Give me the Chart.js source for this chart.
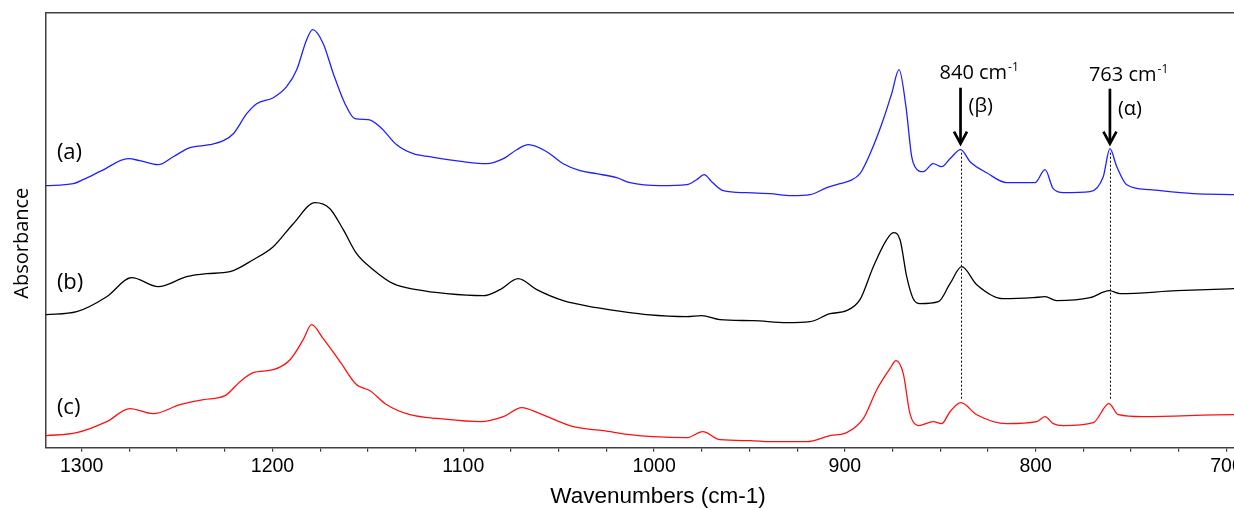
<!DOCTYPE html>
<html><head><meta charset="utf-8">
<script src="https://cdn.jsdelivr.net/npm/chart.js@4"></script>
<style>
html,body{margin:0;padding:0;background:#fff;overflow:hidden}
#wrap{width:1234px;height:510px;overflow:hidden;position:relative}
canvas{display:block}
</style></head>
<body><div id="wrap"><canvas id="c" width="1280" height="510"></canvas></div>
<script>
// Wavenumber (cm-1) and absorbance (offset, arbitrary units) for each spectrum
const waveA=[1318.7,1304.4,1299.3,1289.5,1275.6,1269.4,1259.9,1252,1243.2,1232.8,1225.8,1220.5,1213.5,1208.3,1199.6,1192.6,1187.3,1182.1,1178.9,1173.4,1168.1,1162,1156.8,1149.8,1143.7,1134.9,1126.2,1117.5,1100,1087.7,1079,1072,1065.9,1056.3,1047.6,1038.8,1030.1,1019.6,1012.6,996.9,982.9,977.7,973.8,969.8,963.7,951.5,939.3,927.9,918.3,909.5,902.6,897.3,892.1,886.8,879.9,875.5,871.6,868,865,863.3,858.9,853.7,849.3,844.9,839.3,834.4,825.7,815.2,800.4,795.1,790.8,785.5,771.5,764.6,761.1,757.5,752.3,740.1,717.4,696.1,677];
const absA=[2.62,2.64,2.68,2.77,2.89,2.87,2.83,2.91,3.00,3.03,3.07,3.14,3.34,3.44,3.50,3.61,3.78,4.08,4.18,4.04,3.74,3.44,3.29,3.28,3.21,3.03,2.94,2.91,2.86,2.84,2.89,2.98,3.03,2.96,2.84,2.77,2.74,2.70,2.65,2.62,2.63,2.68,2.73,2.66,2.57,2.55,2.54,2.52,2.53,2.60,2.64,2.67,2.74,2.94,3.28,3.54,3.78,3.41,2.91,2.81,2.76,2.84,2.81,2.89,2.98,2.86,2.75,2.65,2.65,2.78,2.59,2.55,2.56,2.71,2.99,2.81,2.63,2.58,2.54,2.53,2.52];

const waveB=[1318.7,1302.6,1286.9,1273.8,1259.9,1245,1234.5,1222.3,1210.1,1199.6,1189.1,1177.7,1169.9,1162.9,1155.9,1147.2,1136.7,1124.4,1108.7,1089.5,1080.8,1071.2,1061.5,1047.6,1030.1,1012.6,1003.9,982.9,975,965.5,948,930.5,918.3,907.8,899.1,892.1,885.1,878.1,874.6,871.1,867.6,864.2,860.6,851,844.9,838.8,830.9,817,801.3,795.1,789,771.5,761.4,755.8,726.1,696.1,677];
const absB=[1.33,1.36,1.51,1.70,1.61,1.71,1.74,1.76,1.88,2.01,2.24,2.45,2.39,2.18,1.94,1.78,1.64,1.58,1.54,1.52,1.58,1.69,1.58,1.47,1.40,1.35,1.33,1.31,1.32,1.28,1.27,1.25,1.26,1.34,1.37,1.48,1.81,2.08,2.15,2.08,1.71,1.49,1.44,1.46,1.64,1.81,1.63,1.49,1.50,1.51,1.47,1.50,1.57,1.54,1.57,1.59,1.60];

const waveC=[1318.7,1302.6,1286.9,1274.7,1262.5,1248.5,1236.3,1224.9,1217,1210.1,1199.6,1190.8,1183.9,1179.5,1173.4,1164.6,1155.9,1148.9,1140.1,1127.9,1112.2,1091.2,1079,1069.4,1059.8,1042.3,1026.6,1012.6,1000.4,982.9,974.5,965.5,949.7,939.3,920,907.8,899.1,890.4,883.3,876.4,873.2,869.4,865.9,861.5,853.7,849.3,844.9,839.2,830.9,815.2,799.5,795.1,790.8,785.5,769.8,761.6,756.7,743.6,696.1,677];
const absC=[0.12,0.15,0.26,0.39,0.34,0.43,0.48,0.52,0.66,0.75,0.78,0.88,1.08,1.23,1.09,0.86,0.63,0.57,0.43,0.33,0.29,0.26,0.31,0.40,0.34,0.21,0.17,0.13,0.11,0.10,0.16,0.08,0.07,0.06,0.06,0.12,0.15,0.29,0.58,0.79,0.87,0.74,0.34,0.22,0.26,0.24,0.36,0.45,0.33,0.24,0.26,0.31,0.24,0.22,0.25,0.44,0.33,0.31,0.33,0.33];

// Axis ticks
const tickValues=[1300,1275,1250,1225,1200,1175,1150,1125,1100,1075,1050,1025,1000,975,950,925,900,875,850,825,800,775,750,725,700];
const majorLabels=[1300,1200,1100,1000,900,800,700];

// Series labels
const seriesNames=['(a)','(b)','(c)'];
const seriesLabelWave=1313;
const seriesLabelY=[2.95,1.65,0.40];

// Peak annotations
const peakWave=[839.4,761.1];
const peakLabels=['840 cm','763 cm'];
const peakSymbols=['(\u03B2)','(\u03B1)'];
const labelBase=[3.69,3.67];
const arrowTop=[3.60,3.59];
const arrowTip=[3.03,3.03];
const symbolY=[3.41,3.38];
const dottedTop=[2.95,2.95];
const dottedBottom=[0.47,0.47];

const toXY=(w,a)=>w.map((v,i)=>({x:v,y:a[i]}));

const annot={
  id:'annot',
  afterDatasetsDraw(chart){
    const {ctx,chartArea:a,scales:{x,y}}=chart;
    ctx.save();
    // top frame line
    ctx.strokeStyle='#404040';ctx.lineWidth=1.5;
    ctx.beginPath();ctx.moveTo(a.left,a.top);ctx.lineTo(a.right,a.top);ctx.stroke();
    // dotted guide lines
    ctx.strokeStyle='#000';ctx.lineWidth=1;ctx.setLineDash([2,2]);
    peakWave.forEach((w,i)=>{
      const px=Math.round(x.getPixelForValue(w))+0.5;
      ctx.beginPath();ctx.moveTo(px,y.getPixelForValue(dottedTop[i]));ctx.lineTo(px,y.getPixelForValue(dottedBottom[i]));ctx.stroke();
    });
    ctx.setLineDash([]);
    // arrows and labels
    ctx.fillStyle='#000';
    peakWave.forEach((w,i)=>{
      const px=x.getPixelForValue(w);
      const t=y.getPixelForValue(arrowTop[i]);
      const b=y.getPixelForValue(arrowTip[i]);
      ctx.strokeStyle='#000';ctx.lineWidth=2.7;ctx.lineJoin='miter';
      ctx.beginPath();ctx.moveTo(px,t);ctx.lineTo(px,b-2);ctx.stroke();
      ctx.beginPath();ctx.moveTo(px-6.5,b-13);ctx.lineTo(px,b-1);ctx.lineTo(px+6.5,b-13);ctx.stroke();
      ctx.textAlign='left';ctx.textBaseline='alphabetic';
      ctx.font='20px "Open Sans"';
      const tx=px-21,ty=y.getPixelForValue(labelBase[i]);
      ctx.fillText(peakLabels[i],tx,ty);
      const wv=ctx.measureText(peakLabels[i]).width;
      ctx.font='12px "Open Sans"';
      ctx.fillText('-1',tx+wv+1,ty-8);
      ctx.font='20px "Open Sans"';ctx.textBaseline='middle';
      ctx.fillText(peakSymbols[i],px+8,y.getPixelForValue(symbolY[i]));
    });
    // series labels
    ctx.font='22px "Open Sans"';ctx.textBaseline='middle';ctx.textAlign='left';
    seriesNames.forEach((s,i)=>ctx.fillText(s,x.getPixelForValue(seriesLabelWave),y.getPixelForValue(seriesLabelY[i])));
    // y axis title
    ctx.translate(22,(a.top+a.bottom)/2+13);
    ctx.rotate(-Math.PI/2);
    ctx.textAlign='center';ctx.font='20px "Open Sans"';
    ctx.fillText('Absorbance',0,0);
    ctx.restore();
  }
};

new Chart(document.getElementById('c'),{
  type:'line',
  data:{datasets:[
    {label:'(a)',data:toXY(waveA,absA),borderColor:'#2020ff'},
    {label:'(b)',data:toXY(waveB,absB),borderColor:'#000000'},
    {label:'(c)',data:toXY(waveC,absC),borderColor:'#ff1010'}
  ]},
  options:{
    responsive:false,devicePixelRatio:1,animation:false,
    layout:{padding:{left:0,top:12.7,right:10,bottom:0}},
    plugins:{legend:{display:false},tooltip:{enabled:false}},
    elements:{point:{radius:0},line:{borderWidth:1.3,cubicInterpolationMode:'monotone',fill:false}},
    scales:{
      x:{
        type:'linear',reverse:true,min:677.2,max:1318.7,
        afterBuildTicks:s=>{s.ticks=tickValues.map(v=>({value:v}));},
        afterFit:s=>{s.height=62.3;},
        ticks:{autoSkip:false,maxRotation:0,minRotation:0,padding:3.6,color:'#000',
          font:{family:'"Liberation Sans", Arial, sans-serif',size:19.5},
          callback:v=>majorLabels.includes(v)?String(v):''},
        grid:{display:true,drawOnChartArea:false,drawTicks:true,tickLength:4,color:'#404040',lineWidth:1.2},
        border:{display:true,color:'#404040',width:1.5},
        title:{display:true,text:'Wavenumbers (cm-1)',color:'#000',
          font:{family:'"Liberation Sans", Arial, sans-serif',size:22.5},padding:{top:0,bottom:0}}
      },
      y:{
        min:0,max:4.35,
        afterFit:s=>{s.width=46;},
        ticks:{display:false},
        grid:{display:true,drawOnChartArea:false,drawTicks:false},
        border:{display:true,color:'#404040',width:1.5}
      }
    }
  },
  plugins:[annot]
});
</script>
</body></html>
